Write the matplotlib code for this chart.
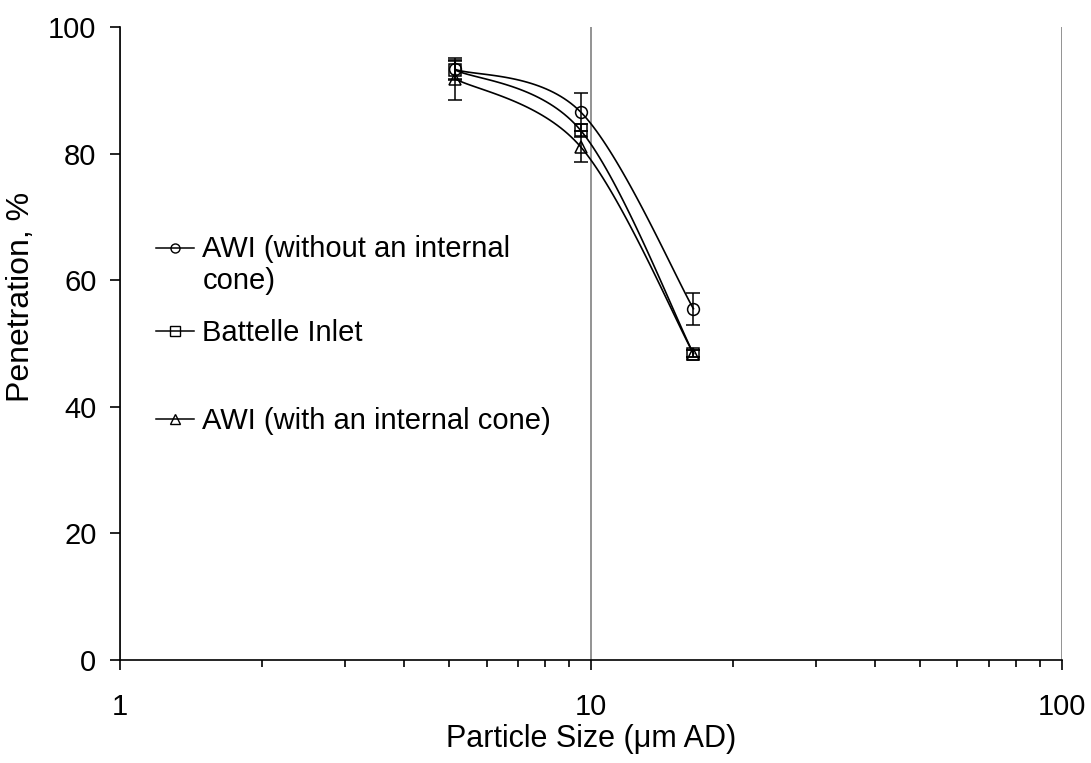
import numpy as np
import matplotlib
matplotlib.use("Agg")
import matplotlib.pyplot as plt
from matplotlib.lines import Line2D
from matplotlib.legend import Legend
from matplotlib.legend_handler import HandlerLine2D

plt.rcParams["font.family"] = ["Liberation Sans", "DejaVu Sans"]

# Data
sizes = [5.15, 9.5, 16.5]
awi_no_cone = [93.3, 86.6, 55.5]
awi_no_cone_err = [1.5, 3.0, 2.5]
battelle = [93.2, 83.7, 48.4]
battelle_err = [1.5, 1.0, 0.5]
awi_cone = [91.8, 81.1, 48.4]
awi_cone_err = [3.3, 2.5, 0.5]

labels = ["AWI (without an internal\ncone)", "Battelle Inlet",
          "AWI (with an internal cone)"]
markers = ["o", "s", "^"]

FS = 21


def smooth(xs, ys, ax, n=40):
    # Excel-like smoothed line: Bezier segments built in display space
    pts = ax.transData.transform(np.column_stack([xs, ys]))
    out = [pts[0]]
    k = len(pts)
    for i in range(k - 1):
        p0 = pts[i - 1] if i > 0 else pts[i]
        p1, p2 = pts[i], pts[i + 1]
        p3 = pts[i + 2] if i + 2 < k else pts[i + 1]
        c1 = p1 + (p2 - p0) / 6.0
        c2 = p2 - (p3 - p1) / 6.0
        t = np.linspace(0, 1, n)[1:, None]
        seg = ((1 - t) ** 3 * p1 + 3 * (1 - t) ** 2 * t * c1
               + 3 * (1 - t) * t ** 2 * c2 + t ** 3 * p2)
        out.extend(seg)
    out = np.array(out)
    return ax.transData.inverted().transform(out).T


class FirstLineHandler(HandlerLine2D):
    # put the handle beside the first line of a two-line label
    def create_artists(self, legend, orig_handle, xdescent, ydescent,
                       width, height, fontsize, trans):
        return super().create_artists(legend, orig_handle, xdescent,
                                      ydescent - 1.2 * fontsize, width,
                                      height, fontsize, trans)


fig = plt.figure(figsize=(10.91, 7.63), dpi=100)
ax = fig.add_axes([0.110, 0.135, 0.8634, 0.8296])
ax.set_xscale("log")
ax.set_xlim(1, 100)
ax.set_ylim(0, 100)
fig.canvas.draw()

series = [(awi_no_cone, awi_no_cone_err), (battelle, battelle_err),
          (awi_cone, awi_cone_err)]
for (vals, errs), m in zip(series, markers):
    sx, sy = smooth(sizes, vals, ax)
    ax.plot(sx, sy, color="black", lw=1.2, zorder=3)
    ax.errorbar(sizes, vals, yerr=errs, fmt=m, mfc="none", mec="black",
                ms=8.5, mew=1.1, ecolor="black", elinewidth=1.1,
                capsize=4.7, capthick=1.1, zorder=4)

ax.xaxis.grid(True, which="major", color="gray", lw=1.2)
ax.set_axisbelow(True)
for s in ["top", "right"]:
    ax.spines[s].set_visible(False)
ax.spines["left"].set_linewidth(1.2)
ax.spines["bottom"].set_linewidth(1.2)

ax.set_yticks([0, 20, 40, 60, 80, 100])
ax.set_xticks([1, 10, 100])
ax.set_xticklabels(["1", "10", "100"])
ax.tick_params(axis="both", which="major", labelsize=FS, length=7,
               width=1.2, direction="out")
ax.tick_params(axis="y", pad=10)
ax.tick_params(axis="x", pad=17)
ax.tick_params(axis="x", which="minor", length=5, width=1.2)
ax.xaxis.set_minor_formatter(plt.NullFormatter())

ax.set_xlabel("Particle Size (\u03bcm AD)", fontsize=22, labelpad=2)
ax.set_ylabel("Penetration, %", fontsize=23)
ax.yaxis.set_label_coords(-0.089, 0.573)

# one legend box per entry, spaced like the original
legend_y = [0.624, 0.517, 0.377]
for m, lab, ly in zip(markers, labels, legend_y):
    h = Line2D([], [], color="black", lw=1.1, marker=m, mfc="none",
               mec="black", ms=6.5, mew=1.0)
    hmap = {h: FirstLineHandler()} if "\n" in lab else None
    leg = Legend(ax, [h], [lab], loc="center left",
                 bbox_to_anchor=(0.038, ly), frameon=False, fontsize=FS,
                 handlelength=1.3, handletextpad=0.3, borderpad=0,
                 borderaxespad=0, handler_map=hmap)
    ax.add_artist(leg)

fig.savefig("out.png", dpi=100)
